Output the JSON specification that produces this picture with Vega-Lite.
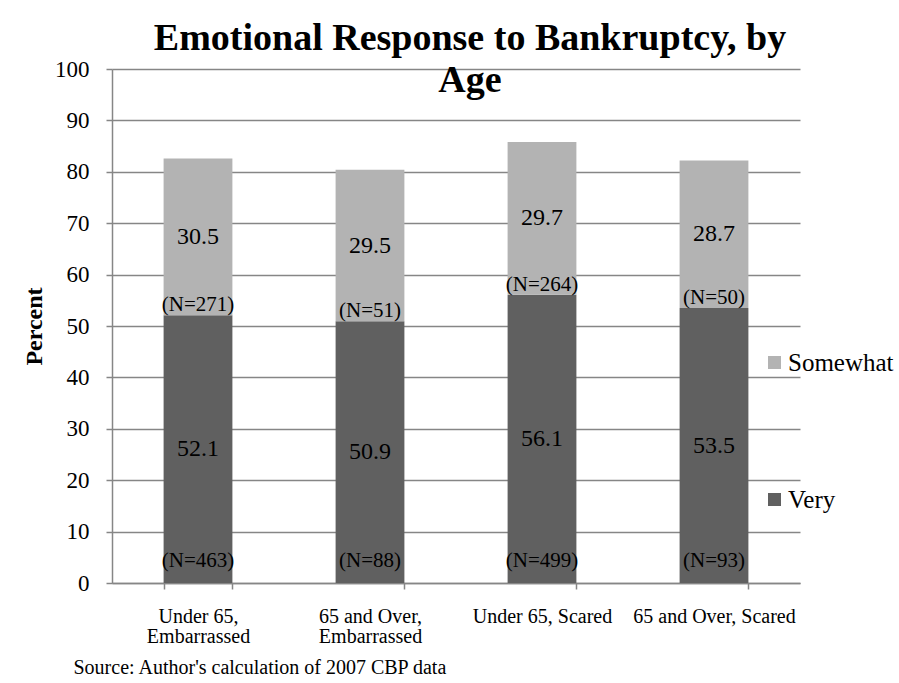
{
  "$schema": "https://vega.github.io/schema/vega-lite/v6.json",
  "width": 688,
  "height": 514,
  "autosize": {"type": "none"},
  "padding": {"left": 112, "top": 69, "right": 99, "bottom": 100},
  "background": "white",
  "title": {
    "text": ["Emotional Response to Bankruptcy, by", "Age"],
    "font": "Liberation Serif",
    "fontSize": 38,
    "fontWeight": "bold",
    "color": "black",
    "anchor": "middle",
    "baseline": "alphabetic",
    "lineHeight": 42,
    "offset": -72,
    "dx": 14
  },
  "config": {
    "font": "Liberation Serif",
    "view": {"stroke": null},
    "text": {"font": "Liberation Serif"},
    "legend": {"labelFont": "Liberation Serif"},
    "axis": {
      "labelFont": "Liberation Serif",
      "titleFont": "Liberation Serif",
      "labelColor": "black",
      "titleColor": "black",
      "domainColor": "#868686",
      "tickColor": "#868686",
      "gridColor": "#868686",
      "domainWidth": 1.5,
      "tickWidth": 1.5,
      "gridWidth": 1.5
    }
  },
  "data": {
    "values": [
      {"group": "Under 65, Embarrassed", "response": "Very", "percent": 52.1, "n": 463, "ord": 1},
      {"group": "Under 65, Embarrassed", "response": "Somewhat", "percent": 30.5, "n": 271, "ord": 2},
      {"group": "65 and Over, Embarrassed", "response": "Very", "percent": 50.9, "n": 88, "ord": 1},
      {"group": "65 and Over, Embarrassed", "response": "Somewhat", "percent": 29.5, "n": 51, "ord": 2},
      {"group": "Under 65, Scared", "response": "Very", "percent": 56.1, "n": 499, "ord": 1},
      {"group": "Under 65, Scared", "response": "Somewhat", "percent": 29.7, "n": 264, "ord": 2},
      {"group": "65 and Over, Scared", "response": "Very", "percent": 53.5, "n": 93, "ord": 1},
      {"group": "65 and Over, Scared", "response": "Somewhat", "percent": 28.7, "n": 50, "ord": 2}
    ]
  },
  "encoding": {
    "x": {
      "field": "group",
      "type": "nominal",
      "sort": ["Under 65, Embarrassed", "65 and Over, Embarrassed", "Under 65, Scared", "65 and Over, Scared"],
      "scale": {"paddingInner": 0.6, "paddingOuter": 0.3},
      "axis": {
        "title": "Source:  Author's calculation of 2007 CBP data",
        "titleFontSize": 20,
        "titleFontWeight": "normal",
        "titleAnchor": "start",
        "titleAlign": "left",
        "titleX": -39,
        "titleY": 84,
        "titleBaseline": "middle",
        "labelAngle": 0,
        "labelFontSize": 20,
        "labelLineHeight": 20,
        "labelPadding": 17,
        "labelBaseline": "top",
        "tickBand": "extent",
        "tickSize": 6,
        "labelExpr": "datum.label == 'Under 65, Embarrassed' ? ['Under 65,', 'Embarrassed'] : datum.label == '65 and Over, Embarrassed' ? ['65 and Over,', 'Embarrassed'] : datum.label"
      }
    },
    "y": {
      "field": "percent",
      "type": "quantitative",
      "stack": "zero",
      "scale": {"domain": [0, 100]},
      "axis": {
        "title": "Percent",
        "titleFontSize": 24,
        "titleFontWeight": "bold",
        "titlePadding": 8,
        "values": [0, 10, 20, 30, 40, 50, 60, 70, 80, 90, 100],
        "labelFontSize": 23,
        "labelPadding": 17,
        "tickSize": 6,
        "grid": true
      }
    },
    "order": {"field": "ord", "type": "quantitative"}
  },
  "layer": [
    {
      "mark": {"type": "bar"},
      "encoding": {
        "color": {
          "field": "response",
          "type": "nominal",
          "scale": {"domain": ["Somewhat", "Very"], "range": ["#b3b3b3", "#606060"]},
          "legend": {
            "title": null,
            "orient": "none",
            "legendX": 650,
            "legendY": 281,
            "padding": 0,
            "symbolType": "square",
            "symbolSize": 169,
            "symbolStrokeWidth": 0,
            "labelFont": "Liberation Serif",
            "labelFontSize": 25,
            "labelColor": "black",
            "labelOffset": 1,
            "rowPadding": 111
          }
        }
      }
    },
    {
      "mark": {"type": "text", "font": "Liberation Serif", "fontSize": 24, "color": "black", "baseline": "middle"},
      "encoding": {
        "y": {"field": "percent", "type": "quantitative", "stack": "zero", "bandPosition": 0.5},
        "text": {"field": "percent", "type": "quantitative", "format": ".1f"}
      }
    },
    {
      "transform": [
        {"stack": "percent", "groupby": ["group"], "sort": [{"field": "ord", "order": "ascending"}], "as": ["base", "top"]},
        {"filter": "datum.ord == 1"}
      ],
      "mark": {"type": "text", "font": "Liberation Serif", "fontSize": 21, "color": "black", "baseline": "middle", "dy": -22, "text": {"expr": "'(N=' + datum.n + ')'"}},
      "encoding": {
        "y": {"field": "base", "type": "quantitative", "stack": null}
      }
    },
    {
      "transform": [
        {"stack": "percent", "groupby": ["group"], "sort": [{"field": "ord", "order": "ascending"}], "as": ["base", "top"]},
        {"filter": "datum.ord == 2"}
      ],
      "mark": {"type": "text", "font": "Liberation Serif", "fontSize": 21, "color": "black", "baseline": "middle", "dy": -10, "text": {"expr": "'(N=' + datum.n + ')'"}},
      "encoding": {
        "y": {"field": "base", "type": "quantitative", "stack": null}
      }
    }
  ]
}
